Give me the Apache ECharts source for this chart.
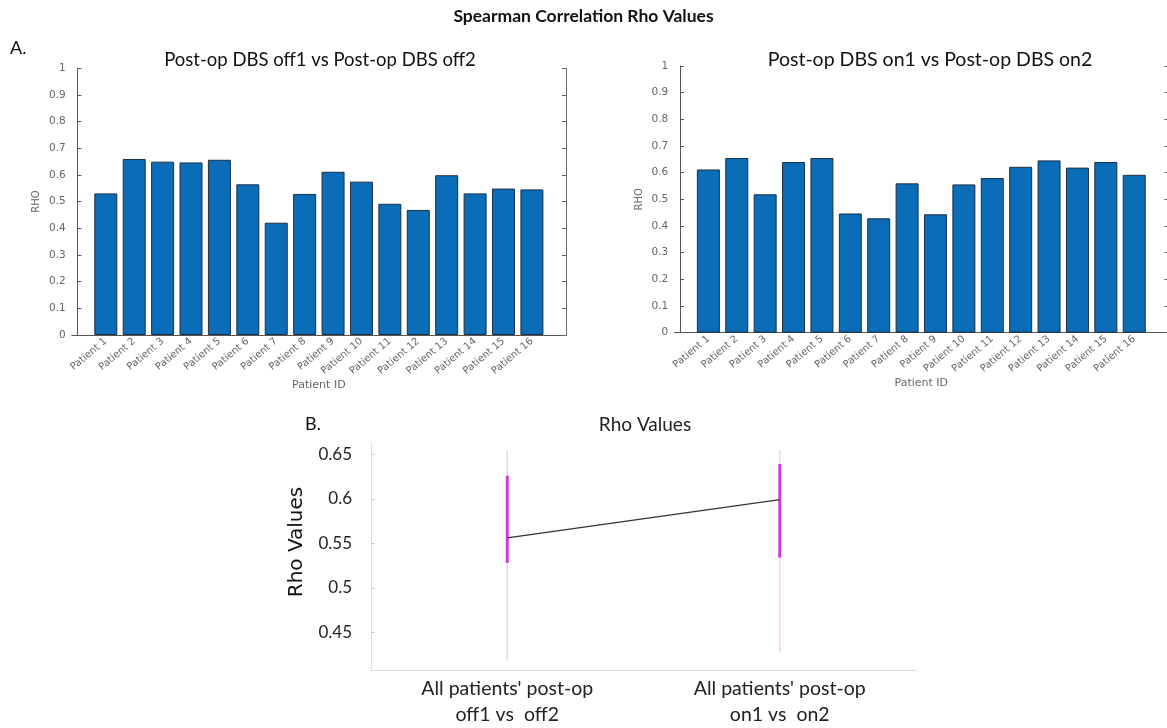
<!DOCTYPE html>
<html>
<head>
<meta charset="utf-8">
<script src="https://cdn.jsdelivr.net/npm/echarts@6/dist/echarts.min.js"></script>
<style>
html,body{margin:0;padding:0;background:#fff;}
#chart{width:1167px;height:728px;}
</style>
</head>
<body>
<div id="chart"></div>
<script>
// ---- data ----
const categories = ['Patient 1','Patient 2','Patient 3','Patient 4','Patient 5','Patient 6','Patient 7','Patient 8',
  'Patient 9','Patient 10','Patient 11','Patient 12','Patient 13','Patient 14','Patient 15','Patient 16'];
const offValues = [0.531,0.660,0.650,0.647,0.657,0.565,0.421,0.529,0.612,0.575,0.492,0.469,0.599,0.531,0.549,0.546];
const onValues  = [0.612,0.655,0.519,0.640,0.655,0.447,0.429,0.560,0.444,0.556,0.580,0.622,0.646,0.619,0.640,0.592];
const rhoTicks = [0,0.1,0.2,0.3,0.4,0.5,0.6,0.7,0.8,0.9,1];

const summaryCategories = ["All patients' post-op\noff1 vs  off2", "All patients' post-op\non1 vs  on2"];
const summaryMeans = [0.556, 0.599];
const summaryInnerLow = [0.528, 0.534];
const summaryInnerHigh = [0.626, 0.639];
const summaryOuterLow = [0.419, 0.428];
const summaryOuterHigh = [0.655, 0.655];
const summaryTicks = [0.45, 0.5, 0.55, 0.6, 0.65];

// ---- chart ----
const chart = echarts.init(document.getElementById('chart'), null, {renderer:'canvas'});
const positions = categories.map((c, i) => i + 1);
const mono = 'DejaVu Sans';
const cal = 'Lato';

function barXAxis(gridIndex) {
  return {
    type:'value', gridIndex, min:-0.2, max:17.2,
    name: 'Patient ID', nameLocation:'middle', nameGap:45,
    nameTextStyle:{fontFamily:mono, fontSize:11, color:'#666'},
    axisLine:{show:true, onZero:false, lineStyle:{color:'#555', width:1}},
    axisTick:{show:true, inside:true, length:3, customValues:positions, lineStyle:{color:'#555'}},
    axisLabel:{show:true, customValues:positions, rotate:40, margin:5,
      fontFamily:mono, fontSize:10, color:'#666',
      formatter: v => categories[Math.round(v) - 1] || ''},
    splitLine:{show:false}
  };
}
function barYAxis(gridIndex) {
  return {
    type:'value', gridIndex, min:0, max:1, interval:0.1,
    name:'RHO', nameLocation:'middle', nameGap:30,
    nameTextStyle:{fontFamily:mono, fontSize:10, color:'#666'},
    axisLine:{show:true, lineStyle:{color:'#555', width:1}},
    axisTick:{show:true, inside:true, length:4, lineStyle:{color:'#555'}},
    axisLabel:{fontFamily:mono, fontSize:10.5, color:'#666', margin:6,
      formatter: v => String(Math.round(v*10)/10)},
    splitLine:{show:false}
  };
}
function barYAxisRight(gridIndex) {
  return {
    type:'value', gridIndex, min:0, max:1, interval:0.1, position:'right',
    axisLine:{show:true, lineStyle:{color:'#666', width:1}},
    axisTick:{show:true, inside:true, length:4, lineStyle:{color:'#666'}},
    axisLabel:{show:false}, splitLine:{show:false}
  };
}

const errRender = (color, width) => function(params, api) {
  const x = api.value(0);
  const p1 = api.coord([x, api.value(1)]);
  const p2 = api.coord([x, api.value(2)]);
  return {type:'line', shape:{x1:p1[0], y1:p1[1], x2:p2[0], y2:p2[1]},
    style:{stroke:color, lineWidth:width}};
};

const option = {
  backgroundColor:'#fff',
  animation:false,
  grid:[
    {left:71.7, top:68.3, width:494.3, height:266.7, containLabel:false, outerBoundsMode:'none'},
    {left:674.3, top:66, width:494, height:266.7, containLabel:false, outerBoundsMode:'none'},
    {left:371, top:443, width:545, height:227, containLabel:false, outerBoundsMode:'none'}
  ],
  xAxis:[
    barXAxis(0),
    barXAxis(1),
    {type:'category', gridIndex:2, data:summaryCategories, boundaryGap:true,
      axisLine:{show:true, lineStyle:{color:'#d9d9d9', width:1}},
      axisTick:{show:false},
      axisLabel:{fontFamily:cal, fontSize:19.5, lineHeight:26, color:'#222', margin:6, interval:0},
      splitLine:{show:false}}
  ],
  yAxis:[
    barYAxis(0), barYAxisRight(0),
    barYAxis(1), barYAxisRight(1),
    {type:'value', gridIndex:2, min:0.4076, max:0.6627,
      axisLine:{show:true, lineStyle:{color:'#e0e0e0', width:1}},
      axisTick:{show:true, inside:true, length:4, customValues:summaryTicks, lineStyle:{color:'#ccc'}},
      axisLabel:{customValues:summaryTicks, fontFamily:cal, fontSize:17, color:'#222', margin:19,
        formatter: v => String(Math.round(v*100)/100)},
      splitLine:{show:false}}
  ],
  graphic:[
    {type:'text', left:'center', top:7, style:{text:'Spearman Correlation Rho Values', font:'bold 17.5px Lato', fill:'#111'}},
    {type:'text', x:10, y:48, style:{text:'A.', font:'18px Lato', fill:'#111', textVerticalAlign:'middle'}},
    {type:'text', x:305, y:424, style:{text:'B.', font:'18px Lato', fill:'#111', textVerticalAlign:'middle'}},
    {type:'text', x:320, y:60, style:{text:'Post-op DBS off1 vs Post-op DBS off2', font:'18.5px Lato', fill:'#111', textAlign:'center', textVerticalAlign:'middle'}},
    {type:'text', x:930, y:60, style:{text:'Post-op DBS on1 vs Post-op DBS on2', font:'19.5px Lato', fill:'#111', textAlign:'center', textVerticalAlign:'middle'}},
    {type:'text', x:645, y:425, style:{text:'Rho Values', font:'19px Lato', fill:'#222', textAlign:'center', textVerticalAlign:'middle'}},
    {type:'text', x:297, y:542, rotation:Math.PI/2, style:{text:'Rho Values', font:'20px "DejaVu Sans"', fill:'#111', textAlign:'center', textVerticalAlign:'middle'}}
  ],
  series:[
    {type:'bar', xAxisIndex:0, yAxisIndex:0, barWidth:23,
      data: offValues.map((v, i) => [positions[i], v]),
      itemStyle:{color:'#0B6CB8', borderColor:'#1d2f45', borderWidth:1}},
    {type:'bar', xAxisIndex:1, yAxisIndex:2, barWidth:23,
      data: onValues.map((v, i) => [positions[i], v]),
      itemStyle:{color:'#0B6CB8', borderColor:'#1d2f45', borderWidth:1}},
    {type:'custom', xAxisIndex:2, yAxisIndex:4, z:2,
      renderItem: errRender('#f7cdf7', 1.5),
      data: summaryCategories.map((c, i) => [i, summaryOuterLow[i], summaryOuterHigh[i]])},
    {type:'custom', xAxisIndex:2, yAxisIndex:4, z:3,
      renderItem: errRender('#d03ddc', 3),
      data: summaryCategories.map((c, i) => [i, summaryInnerLow[i], summaryInnerHigh[i]])},
    {type:'line', xAxisIndex:2, yAxisIndex:4, z:4, symbol:'none',
      data: summaryMeans, lineStyle:{color:'#333', width:1.2}}
  ]
};
chart.setOption(option);
</script>
</body>
</html>
